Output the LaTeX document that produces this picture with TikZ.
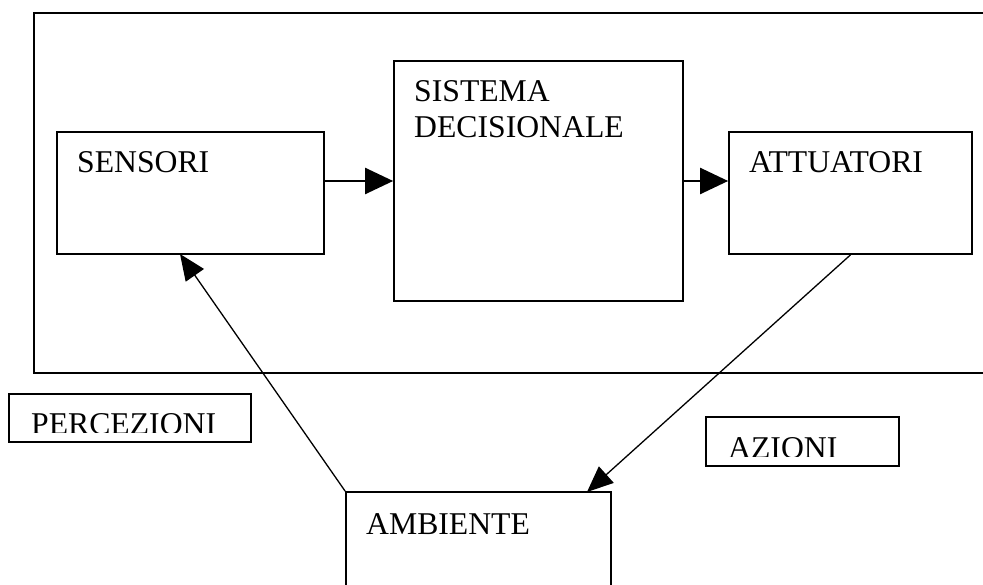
\documentclass[tikz,border=0pt]{standalone}
\usepackage{fontspec}
\setmainfont{Liberation Serif}
\usetikzlibrary{arrows.meta}
\tikzset{
  box/.style={draw, line width=1.7pt, rectangle, inner sep=0pt},
  frame/.style={draw, line width=1.5pt, rectangle, inner sep=0pt},
  lbl/.style={anchor=base west, inner sep=0pt, font=\fontsize{31.7}{36}\selectfont},
  bigarrow/.style={line width=2.2pt, -{Triangle[length=28pt, width=26pt]}},
  diagarrow/.style={line width=1.3pt, -{Triangle[length=26pt, width=22pt]}}
}
\begin{document}
\begin{tikzpicture}[x=1pt, y=-1pt]
\useasboundingbox (0,0) rectangle (983,585);
\clip (0,0) rectangle (983,585);
\fill[white] (0,0) rectangle (983,585);
% outer frame (open on the right, beyond the page)
\node[frame, minimum width=960pt, minimum height=360pt] (outer) at (514,193) {};
% boxes
\node[box, minimum width=267pt, minimum height=122pt] (sens) at (190.5,193) {};
\node[box, minimum width=289pt, minimum height=240pt] (sis) at (538.5,181) {};
\node[box, minimum width=243pt, minimum height=122pt] (att) at (850.5,193) {};
\node[box, minimum width=265pt, minimum height=150pt] (amb) at (478.5,567) {};
\node[box, minimum width=242pt, minimum height=48pt] (perc) at (130,418) {};
\node[box, minimum width=193pt, minimum height=49pt] (az) at (802.5,441.5) {};
% texts
\node[lbl] (tsens) at (77,173) {SENSORI};
\node[lbl] (tsis1) at (414,102) {SISTEMA};
\node[lbl] (tsis2) at (414,138) {DECISIONALE};
\node[lbl] (tatt) at (749,173) {ATTUATORI};
\node[lbl] (tamb) at (366,534) {AMBIENTE};
\begin{scope}
  \clip (0,0) rectangle (983,432);
  \node[lbl] (tperc) at (31,434) {PERCEZIONI};
\end{scope}
\begin{scope}
  \clip (0,0) rectangle (983,456);
  \node[lbl] (taz) at (728,458) {AZIONI};
\end{scope}
% connectors
\coordinate (sensin) at (180,254);
\coordinate (ambin) at (587,492);
\draw[bigarrow] (sens.east |- sis.west) -- (sis.west);
\draw[bigarrow] (sis.east) -- (att.west |- sis.east);
\draw[diagarrow] (amb.north west) -- (sensin);
\draw[diagarrow] (att.south) -- (ambin);
\end{tikzpicture}
\end{document}
